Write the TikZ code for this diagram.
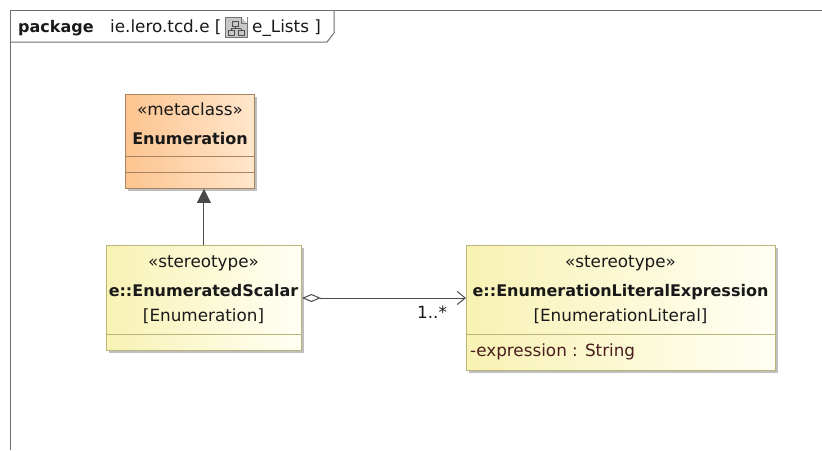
\documentclass[tikz,border=0pt]{standalone}
\usepackage{fontspec}
\setmainfont{DejaVu Sans}
\usetikzlibrary{arrows.meta,shadows}
\definecolor{frameC}{HTML}{6E6E6E}
\definecolor{orBorder}{HTML}{A88460}
\definecolor{orL}{HTML}{FCC48F}
\definecolor{orR}{HTML}{FFE6CC}
\definecolor{yeBorder}{HTML}{B8B47A}
\definecolor{yeL}{HTML}{F8F2B4}
\definecolor{yeR}{HTML}{FFFFF4}
\definecolor{lineC}{HTML}{4A4A4A}
\definecolor{attrC}{HTML}{4A1E1E}
\tikzset{
  x=1pt,y=-1pt,
  umlbox/.style={draw, line width=0.9pt, inner sep=0, anchor=north west,
    drop shadow={shadow xshift=3pt, shadow yshift=-3pt, fill=black!25, opacity=1}},
  orbox/.style={umlbox, draw=orBorder, left color=orL, right color=orR},
  yebox/.style={umlbox, draw=yeBorder, left color=yeL, right color=yeR},
  txt/.style={inner sep=0, anchor=base, font=\fontsize{16.8}{19}\selectfont, text=black!90},
  btxt/.style={txt, font=\fontsize{16}{19}\selectfont\bfseries},
  comp/.style={line width=0.9pt},
}
\begin{document}
\begin{tikzpicture}
\useasboundingbox (0,0) rectangle (822,450);
% frame
\coordinate (fTR) at (822,10);
\coordinate (fBL) at (10,450);
\coordinate (fTL) at (10,10);
\draw[frameC, line width=1pt] (fBL) -- (fTL) -- (fTR);
\draw[frameC, line width=1pt] (10,42) -- (327,42) -- (334,33) -- (334,10);
\node[btxt, anchor=base west] (pkg) at (18,32) {package};
\node[txt, anchor=base west] (pkgname) at (110,32) {ie.lero.tcd.e [};
% diagram icon
\node[draw=black!55, fill=black!22, minimum width=22pt, minimum height=20pt, inner sep=0, anchor=north west] (icon) at (225,17) {};
\fill[white] (241,17) -- (247,23) -- (247,17) -- cycle;
\draw[black!55, line width=0.6pt] (241,17) -- (241,23) -- (247,23);
\begin{scope}[black!70, line width=0.7pt]
\draw (232,21) rectangle (238,26);
\draw (228,30.5) rectangle (234,35);
\draw (238,30.5) rectangle (244,35);
\draw (235,26) -- (235,28.5) (231,28.5) -- (241,28.5) (231,28.5) -- (231,30.5) (241,28.5) -- (241,30.5);
\end{scope}
\node[txt, anchor=base west] (pkgdiag) at (252,32) {e\_Lists ]};

% Enumeration metaclass
\node[orbox, minimum width=129pt, minimum height=94pt] (E) at (125,94) {};
\node[txt] (Est) at (190,115) {«metaclass»};
\node[btxt] (Ename) at (190,144) {Enumeration};
\draw[comp, orBorder] (E.west |- 0,156) -- (E.east |- 0,156);
\draw[comp, orBorder] (E.west |- 0,172) -- (E.east |- 0,172);

% EnumeratedScalar
\node[yebox, minimum width=195pt, minimum height=105pt] (ES) at (106,245) {};
\node[txt] (ESst) at (203.5,267) {«stereotype»};
\node[btxt] (ESname) at (203.5,296) {e::EnumeratedScalar};
\node[txt] (ESmeta) at (203.5,321) {[Enumeration]};
\draw[comp, yeBorder] (ES.west |- 0,334) -- (ES.east |- 0,334);

% EnumerationLiteralExpression
\node[yebox, minimum width=309pt, minimum height=125pt] (EL) at (466,245) {};
\node[txt] (ELst) at (620.5,267) {«stereotype»};
\node[btxt] (ELname) at (620.5,296) {e::EnumerationLiteralExpression};
\node[txt] (ELmeta) at (620.5,321) {[EnumerationLiteral]};
\draw[comp, yeBorder] (EL.west |- 0,334) -- (EL.east |- 0,334);
\node[txt, anchor=base west, text=attrC] (ELattr) at (470,356) {-expression : String};

% generalization
\draw[lineC, line width=1pt, -{Triangle[length=14pt,width=14pt,fill=lineC]}] (ES.north) -- (ES.north |- E.south);
% aggregation
\coordinate (aggS) at (ES.east |- 0,298);
\coordinate (aggE) at (EL.west |- 0,298);
\draw[lineC, line width=1pt, {Diamond[open,length=19pt,width=8pt,fill=white]}-{Straight Barb[length=8pt,width=13pt]}] (aggS) -- (aggE);
\node[txt, anchor=base west] (mult) at (417,318) {1..*};
\end{tikzpicture}
\end{document}
